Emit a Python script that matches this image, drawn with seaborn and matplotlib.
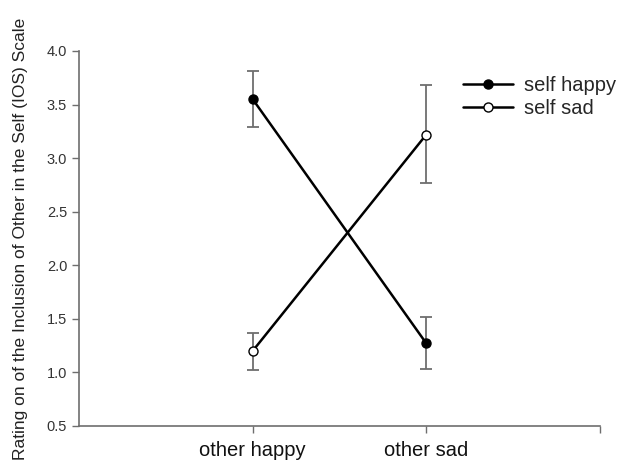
import numpy as np
import pandas as pd
import matplotlib
matplotlib.use("Agg")
import matplotlib.pyplot as plt
import seaborn as sns

# values
conditions = ["other happy", "other sad"]
series_names = ["self happy", "self sad"]
happy_mean = [3.55, 1.27]
happy_lo = [3.29, 1.03]
happy_hi = [3.81, 1.52]
sad_mean = [1.20, 3.22]
sad_lo = [1.02, 2.77]
sad_hi = [1.37, 3.68]
y_ticks = [0.5, 1.0, 1.5, 2.0, 2.5, 3.0, 3.5, 4.0]

sns.set_style("ticks")
plt.rcParams["font.family"] = ["Liberation Sans", "DejaVu Sans"]

df = pd.DataFrame({
    "condition": conditions * 2,
    "series": [series_names[0]] * 2 + [series_names[1]] * 2,
    "rating": happy_mean + sad_mean,
})

grey = "#6e6e6e"
fig = plt.figure(figsize=(6.27, 4.63), dpi=100)
ax = fig.add_axes([0.126, 0.080, 0.831, 0.810])

# error bars first so the lines sit on top
pos = np.arange(len(conditions))
for mean, lo, hi in [(happy_mean, happy_lo, happy_hi), (sad_mean, sad_lo, sad_hi)]:
    mean = np.array(mean)
    err = [mean - np.array(lo), np.array(hi) - mean]
    ax.errorbar(pos, mean, yerr=err, fmt="none", ecolor=grey, elinewidth=1.3,
                capsize=4.5, capthick=1.3, zorder=1)

face = {"self happy": "black", "self sad": "white"}
for name in series_names:
    sub = df[df["series"] == name].copy()
    sub["x"] = [conditions.index(c) for c in sub["condition"]]
    sns.lineplot(data=sub, x="x", y="rating", ax=ax, color="black", linewidth=1.8,
                 marker="o", markersize=6.5, markerfacecolor=face[name],
                 markeredgecolor="black", markeredgewidth=1.0, label=name, zorder=3)

ax.set_xlim(-1, 2)
ax.set_ylim(0.5, 4.0)
ax.set_xticks([0, 1, 2])
ax.set_xticklabels(conditions + [""], fontsize=14.5, color="#111111")
ax.set_yticks(y_ticks)
ax.set_yticklabels([f"{t:.1f}" for t in y_ticks], fontsize=10.5, color="#333333")
ax.set_xlabel("")
ax.set_ylabel("Rating on of the Inclusion of Other in the Self (IOS) Scale",
              fontsize=12.5, color="#222222")
ax.yaxis.set_label_coords(-0.098, 0.5)
ax.tick_params(axis="both", direction="out", length=5, width=1.0, color=grey)
ax.tick_params(axis="x", pad=6)
for s in ["top", "right"]:
    ax.spines[s].set_visible(False)
for s in ["left", "bottom"]:
    ax.spines[s].set_color(grey)
    ax.spines[s].set_linewidth(1.2)

ax.get_legend().remove()
handles, labels = ax.get_legend_handles_labels()
fig.legend(handles, labels, loc="upper left",
           bbox_to_anchor=(463 / 627, 1 - 76 / 463), frameon=False,
           borderpad=0, borderaxespad=0, handlelength=2.5, handletextpad=0.55,
           labelspacing=0.2, fontsize=14.5)

fig.savefig("out.png", dpi=100)
